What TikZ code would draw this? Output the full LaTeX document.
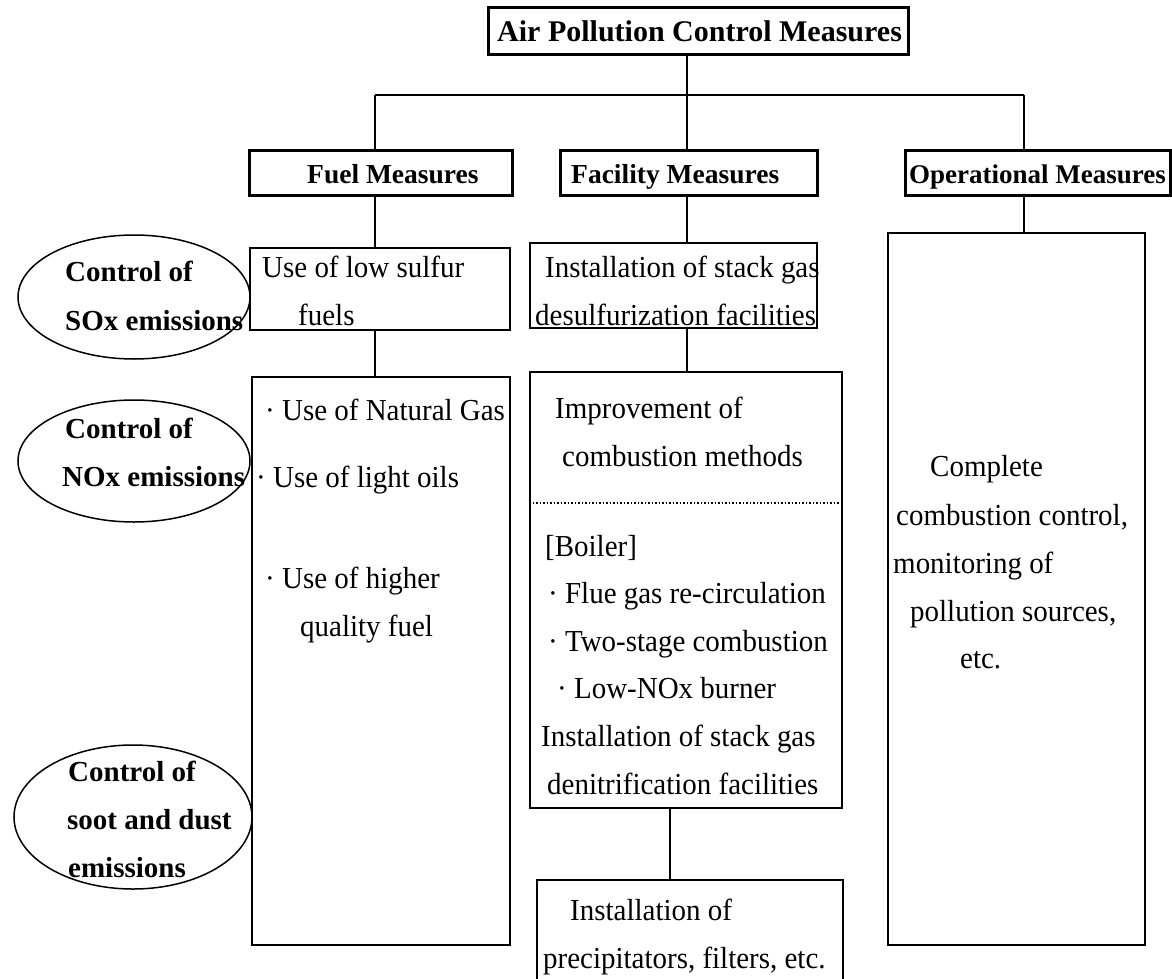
\documentclass[tikz,border=0pt]{standalone}
\usepackage{fontspec}
\setmainfont{Liberation Serif}
\newfontfamily\condfont[FakeStretch=0.95]{Liberation Serif}
\usetikzlibrary{shapes.geometric}
\begin{document}
\begin{tikzpicture}[x=1pt,y=-1pt,
  hdr/.style={draw,line width=3pt,inner sep=0pt},
  boxs/.style={draw,line width=2pt,inner sep=0pt},
  conn/.style={line width=2.8pt},
  oval/.style={draw,ellipse,line width=1.5pt,inner sep=0pt},
  txt/.style={anchor=base west,inner sep=0pt,font=\condfont\fontsize{30.5}{36}\selectfont},
  btxt/.style={anchor=base west,inner sep=0pt,font=\fontsize{29}{36}\selectfont\bfseries},
  htxt/.style={anchor=base west,inner sep=0pt,font=\fontsize{27.5}{36}\selectfont\bfseries},
]
\useasboundingbox (0,0) rectangle (1172,979);
% boxes
\node[hdr,minimum width=420pt,minimum height=47pt] (title) at (698,31.5) {};
\node[hdr,minimum width=263pt,minimum height=45pt] (fuelh) at (380.5,172.5) {};
\node[hdr,minimum width=257pt,minimum height=45pt] (facih) at (688.5,172.5) {};
\node[hdr,minimum width=265pt,minimum height=45pt] (oph) at (1037.5,172.5) {};
\node[boxs,minimum width=260pt,minimum height=82pt] (lows) at (380,289) {};
\node[boxs,minimum width=287pt,minimum height=85pt] (desulf) at (673.5,285.5) {};
\node[boxs,line width=2.5pt,minimum width=257pt,minimum height=712pt] (opbig) at (1016.5,589) {};
\node[boxs,line width=2.5pt,minimum width=258pt,minimum height=568pt] (fuelbig) at (381,661) {};
\node[boxs,minimum width=312pt,minimum height=436pt] (facbig) at (686,590) {};
\node[boxs,minimum width=306pt,minimum height=110pt] (precip) at (690,935) {};
% ellipses
\node[oval,minimum width=232pt,minimum height=124pt] (sox) at (134,297) {};
\node[oval,minimum width=232pt,minimum height=122pt] (nox) at (134,461) {};
\node[oval,minimum width=238pt,minimum height=144pt] (soot) at (133,817) {};
% connectors
\coordinate (j1) at (375,95);
\coordinate (j2) at (687,95);
\coordinate (j3) at (1024,95);
\draw[conn] (j2 |- title.south) -- (j2);
\draw[line width=2pt] (j1) -- (j3);
\draw[conn] (j1) -- (j1 |- fuelh.north);
\draw[conn] (j2) -- (j2 |- facih.north);
\draw[conn] (j3) -- (j3 |- oph.north);
\draw[conn] (j1 |- fuelh.south) -- (j1 |- lows.north);
\draw[conn] (j1 |- lows.south) -- (j1 |- fuelbig.north);
\draw[conn] (j2 |- facih.south) -- (j2 |- desulf.north);
\draw[conn] (j2 |- desulf.south) -- (j2 |- facbig.north);
\coordinate (j4) at (670,850);
\draw[conn] (j4 |- facbig.south) -- (j4 |- precip.north);
\draw[conn] (j3 |- oph.south) -- (j3 |- opbig.north);
\coordinate (d1) at (0,503);
\draw[line width=1.5pt,dotted] (facbig.west |- d1) -- (facbig.east |- d1);
% texts
\node[btxt,font=\fontsize{30}{36}\selectfont\bfseries] (t0) at (497,42) {Air Pollution Control Measures};
\node[htxt] (t1) at (307,183) {Fuel Measures};
\node[htxt] (t2) at (571,183) {Facility Measures};
\node[htxt,font=\fontsize{27}{36}\selectfont\bfseries] (t3) at (909,183) {Operational Measures};
\node[txt] (a1) at (262,277) {Use of low sulfur};
\node[txt] (a2) at (298,325) {fuels};
\node[txt] (b1) at (545,277) {Installation of stack gas};
\node[txt] (b2) at (535,325) {desulfurization facilities};
\node[txt] (c1) at (265,420) {· Use of Natural Gas};
\node[txt] (c2) at (256,487) {· Use of light oils};
\node[txt] (c3) at (265,588) {· Use of higher};
\node[txt] (c4) at (300,636) {quality fuel};
\node[txt] (e1) at (555,418) {Improvement of};
\node[txt] (e2) at (562,466) {combustion methods};
\node[txt] (e3) at (545,556) {[Boiler]};
\node[txt] (e4) at (548,603) {· Flue gas re-circulation};
\node[txt] (e5) at (548,651) {· Two-stage combustion};
\node[txt] (e6) at (557,698) {· Low-NOx burner};
\node[txt] (e7) at (541,746) {Installation of stack gas};
\node[txt] (e8) at (547,794) {denitrification facilities};
\node[txt] (f1) at (570,920) {Installation of};
\node[txt] (f2) at (543,968) {precipitators, filters, etc.};
\node[txt] (g1) at (930,476) {Complete};
\node[txt] (g2) at (896,525) {combustion control,};
\node[txt] (g3) at (893,573) {monitoring of};
\node[txt] (g4) at (910,621) {pollution sources,};
\node[txt] (g5) at (960,668) {etc.};
\node[btxt] (s1) at (65,281) {Control of};
\node[btxt] (s2) at (65,330) {SOx emissions};
\node[btxt] (n1) at (65,438) {Control of};
\node[btxt] (n2) at (62,486) {NOx emissions};
\node[btxt] (p1) at (68,781) {Control of};
\node[btxt] (p2) at (67,829) {soot and dust};
\node[btxt] (p3) at (68,877) {emissions};
\end{tikzpicture}
\end{document}
